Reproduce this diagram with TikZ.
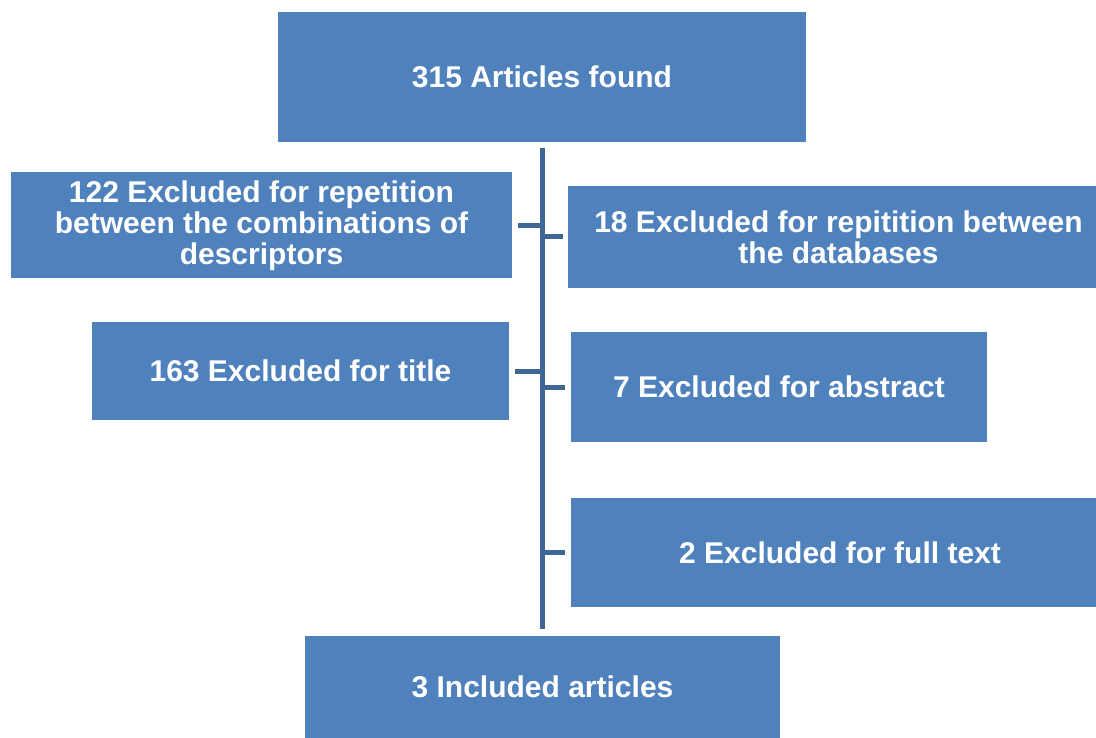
\documentclass[tikz,border=0pt]{standalone}
\usepackage{fontspec}
\setmainfont{Liberation Sans}
\definecolor{boxblue}{HTML}{4F81BD}
\definecolor{lineblue}{HTML}{3E6697}
\begin{document}
\begin{tikzpicture}[x=1pt,y=-1pt,
  box/.style={draw=none,fill=boxblue,rectangle,inner sep=0pt,align=center,
    text=white,font=\fontsize{30}{31}\selectfont\bfseries},
  conn/.style={draw=lineblue,line width=5pt}]
\useasboundingbox (0,0) rectangle (1096,738);
\node[box,minimum width=528pt,minimum height=130pt] (top) at (542,77) {315 Articles found};
\node[box,minimum width=501pt,minimum height=106pt] (b122) at (261.5,225.5) {122 Excluded for repetition\\between the combinations of\\descriptors};
\node[box,minimum width=528pt,minimum height=102pt] (b18) at (832,237) {\hspace*{13pt}18 Excluded for repitition between\\\hspace*{13pt}the databases};
\node[box,minimum width=417pt,minimum height=98pt] (b163) at (300.5,371) {163 Excluded for title};
\node[box,minimum width=416pt,minimum height=110pt] (b7) at (779,387) {7 Excluded for abstract};
\node[box,minimum width=525pt,minimum height=109pt] (b2) at (833.5,552.5) {\hspace*{13pt}2 Excluded for full text};
\node[box,minimum width=475pt,minimum height=103pt] (bot) at (542.5,687) {3 Included articles};
\coordinate (st) at (542.5,148);
\coordinate (sb) at (542.5,629);
\draw[conn] (st) -- (sb);
\draw[conn,shorten <=6pt] (b122.east) -- (b122.east -| st);
\draw[conn,shorten >=5pt] (b18.west -| st) -- (b18.west);
\draw[conn,shorten <=6pt] (b163.east) -- (b163.east -| st);
\draw[conn,shorten >=6pt] (b7.west -| st) -- (b7.west);
\draw[conn,shorten >=6pt] (b2.west -| st) -- (b2.west);
\end{tikzpicture}
\end{document}
